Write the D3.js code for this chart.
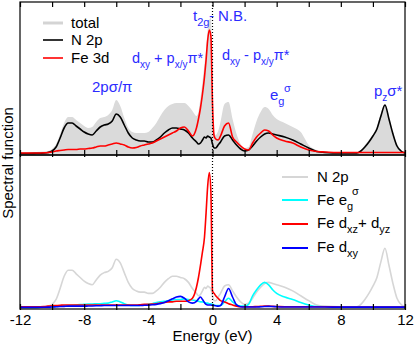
<!DOCTYPE html>
<html><head><meta charset="utf-8">
<script src="https://cdn.jsdelivr.net/npm/d3@7"></script>
<style>
body{margin:0;background:#fff;}
svg text{font-family:"Liberation Sans",Arial,Helvetica,sans-serif;}
</style></head>
<body><svg id="c" width="415" height="345"></svg>
<script>
// ---- data (energy grid in eV, arbitrary spectral units) ----
const energy = [-12,-11.5,-11,-10.5,-10.25, -10,-9.75,-9.5,-9.25,-9, -8.75,-8.5,-8.25,-8,-7.75,
  -7.5,-7.25,-7,-6.75,-6.5, -6.25,-6,-5.75,-5.5,-5.25, -5,-4.75,-4.5,-4.25,-4,
  -3.75,-3.5,-3.25,-3,-2.75, -2.5,-2.25,-2,-1.75,-1.5, -1.25,-1,-0.875,-0.75,-0.625,
  -0.5,-0.4,-0.3,-0.2,-0.1, 0,0.1,0.2,0.35,0.5, 0.75,1,1.25,1.5,1.75,
  2,2.25,2.5,2.75,3, 3.25,3.5,3.75,4,4.5, 5,5.5,6,6.5,7,
  8,9,9.25,9.5,9.75, 10,10.25,10.5,10.75,11, 11.25,11.5,11.75,12];
const total = [1.5,1.5,2,2.5,3, 5,10,20,31,37, 37,34,31,28,26,
  27,32,36,37,39, 44,54,48,36,26, 22,21,21,21,22,
  26,31,38,44,48, 50,51,51,51,48, 43,38,42,56,72,
  90,105,124,134,136, 70,22,19,23,32, 50,52,35,20,10,
  6,7,20,33,42, 47,45,39,35,31, 27,22,9,4,2.5,
  1.5,1.5,4,9,14, 19,27,41,50,37, 21,10,4,1.5];
const n2p = [0.5,0.5,0.7,1,1.5, 3,7,16,26,31, 31,28,25,22,20,
  19,23,27,29,30, 33,40,37,29,21, 16,14,13,13,12,
  12,14,17,21,24, 26,26,25,24,21, 16,12,10,11,14,
  17,16,18,17,16, 10,6,6,9,12, 18,19,14,9,5,
  3,4,8,13,17, 20,21,20,19,17, 14,10,6,2.5,1.5,
  1,1,3,7,12, 18,25,38,49,35, 20,8,3,1];
const fe3d = [1,1,1,1.2,1.5, 2,3,3.5,4,4.5, 4.5,4.5,5,5,5.5,
  6,7,8,8,9, 10,11,10,9,7, 6,6.5,8,9,10,
  11,13,15,17,19, 21,23,26,27,23, 18,26,35,46,60,
  77,94,114,124,118, 50,18,15,14,18, 28,31,17,12,8,
  5,4,11,17,21, 24,23,19,16,13, 11,7,4,2.5,2,
  1.5,1.5,1.5,1.5,1.5, 1.5,1.5,1.5,1.5,1.5, 1.5,1.5,1.5,1.5];
const feEg = [0.5,0.5,0.5,0.8,0.9, 1,1.2,1.5,1.8,2, 2.2,2.5,2.8,3,3.3,
  3.3,3.4,3.5,3.8,4, 5,6,5,3.5,2.5, 2,2,2.2,2.5,3,
  3.5,4.5,5,5.5,6, 6.5,7,7,7.5,7, 6.5,6,5.5,5,5,
  4.5,4,4,3.5,3.5, 3,2.5,2,2,2, 5,8,5,2.5,1.5,
  1.5,3,10,15,19, 21,19,15,12,9, 7,4.5,2.5,1.2,1,
  0.8,0.8,0.8,0.8,0.8, 0.8,0.8,0.8,0.8,0.8, 0.8,0.8,0.8,0.8];
const feDxzDyz = [1,1,1,1.2,1.5, 1.8,2,2.2,2.5,2.5, 2.5,2.5,2.5,2.5,2.5,
  2.5,2.5,2.5,2.5,2.5, 2.5,2.5,2.5,2.5,2.5, 2.5,2.5,2.7,3,3,
  3.2,3.5,4,4.5,5, 5,5.5,5.5,5.5,6, 8,17,25,35,46,
  58,78,100,111,95, 14,12,10,8,6, 5,3.5,2.5,1.5,1,
  1,1,1,1.2,1.3, 1.5,1.5,1.3,1.2,1, 1,1,1,1,1,
  0.8,0.8,0.8,0.8,0.8, 0.8,0.8,0.8,0.8,0.8, 0.8,0.8,0.8,0.8];
const feDxy = [0.5,0.5,0.5,0.6,0.7, 0.8,1,1.2,1.3,1.5, 1.5,1.5,1.5,1.5,1.6,
  1.7,1.8,1.9,2,2, 2,2,2,2,2, 2,2,2,2.2,2.3,
  2.6,3,3.6,4.5,6, 7.5,9,9.5,8,5, 4,5.5,7.5,9,7,
  4.5,3,2.5,2.5,2.5, 2.2,2,1.8,1.5,2, 9,16,9,2.5,1,
  0.8,0.8,0.8,0.8,1, 1.2,1.3,1.2,1,0.8, 0.8,0.8,0.8,0.8,0.8,
  0.7,0.7,0.7,0.7,0.7, 0.7,0.7,0.7,0.7,0.7, 0.7,0.7,0.7,0.7];
const xTickValues = [-12,-10,-8,-6,-4,-2,0,2,4,6,8,10,12];
const xTickLabels = [-12,-8,-4,0,4,8,12];

// ---- layout ----
const L = 20, R = 405, T = 2, M = 155, B = 309;
const svg = d3.select("#c");
const x = d3.scaleLinear().domain([-12, 12]).range([L, R]);
const yT = d3.scaleLinear().domain([0, 152]).range([154, 2]);
const yB = d3.scaleLinear().domain([0, 124]).range([308, 156.7]);

svg.append("clipPath").attr("id","ct").append("rect").attr("x",L).attr("y",T).attr("width",R-L).attr("height",M-T);
svg.append("clipPath").attr("id","cb").append("rect").attr("x",L).attr("y",M).attr("width",R-L).attr("height",B-M);

const pts = arr => energy.map((e,i) => [e, arr[i]]);
const lineT = d3.line().x(d=>x(d[0])).y(d=>yT(d[1])).curve(d3.curveMonotoneX);
const lineB = d3.line().x(d=>x(d[0])).y(d=>yB(d[1])).curve(d3.curveMonotoneX);
const areaT = d3.area().x(d=>x(d[0])).y0(M).y1(d=>yT(d[1])).curve(d3.curveMonotoneX);

const gT = svg.append("g").attr("clip-path","url(#ct)");
gT.append("path").attr("d", areaT(pts(total))).attr("fill","#dadada");
gT.append("path").attr("d", lineT(pts(n2p))).attr("fill","none").attr("stroke","#000").attr("stroke-width",1.6);
gT.append("path").attr("d", lineT(pts(fe3d))).attr("fill","none").attr("stroke","#ff0000").attr("stroke-width",1.6);

const gB = svg.append("g").attr("clip-path","url(#cb)");
gB.append("path").attr("d", lineB(pts(n2p))).attr("fill","none").attr("stroke","#d6d6d6").attr("stroke-width",1.6);
gB.append("path").attr("d", lineB(pts(feEg))).attr("fill","none").attr("stroke","#00ffff").attr("stroke-width",1.6);
gB.append("path").attr("d", lineB(pts(feDxzDyz))).attr("fill","none").attr("stroke","#ff0000").attr("stroke-width",1.6);
gB.append("path").attr("d", lineB(pts(feDxy))).attr("fill","none").attr("stroke","#0000ff").attr("stroke-width",1.6);

// Fermi level dotted line
svg.append("line").attr("x1",x(0)).attr("x2",x(0)).attr("y1",T).attr("y2",B)
  .attr("stroke","#000").attr("stroke-width",1.2).attr("stroke-dasharray","1,2");

// frames
svg.append("rect").attr("x",L).attr("y",T).attr("width",R-L).attr("height",M-T).attr("fill","none").attr("stroke","#000").attr("stroke-width",1.2);
svg.append("rect").attr("x",L).attr("y",M).attr("width",R-L).attr("height",B-M).attr("fill","none").attr("stroke","#000").attr("stroke-width",1.2);

// ticks
function ticks(axis, y){
  const g = svg.append("g").attr("transform",`translate(0,${y})`).call(axis);
  g.select(".domain").remove();
  g.selectAll("line").attr("stroke","#000").attr("stroke-width",1.2);
  return g;
}
ticks(d3.axisBottom(x).tickValues(xTickValues).tickSize(5).tickFormat(""), T);
ticks(d3.axisTop(x).tickValues(xTickValues).tickSize(7).tickFormat(""), M+2);
ticks(d3.axisTop(x).tickValues(xTickValues).tickSize(6).tickFormat(""), B+1);
const gl = ticks(d3.axisBottom(x).tickValues(xTickLabels).tickSize(0).tickPadding(5).tickFormat(d=>d), B);
gl.selectAll("text").attr("font-size",15).attr("fill","#000").attr("font-family","Liberation Sans, Arial, sans-serif");

svg.append("text").attr("x",(L+R)/2).attr("y",341).attr("text-anchor","middle").attr("font-size",15).text("Energy (eV)");
svg.append("text").attr("transform","translate(13,163) rotate(-90)").attr("text-anchor","middle").attr("font-size",15).text("Spectral function");

// top legend
const topLeg = [["total","#d4d4d4",3,23],["N 2p","#000",1.6,40],["Fe 3d","#ff0000",1.6,58]];
topLeg.forEach(([t,c,w,y])=>{
  svg.append("line").attr("x1",43).attr("x2",63).attr("y1",y).attr("y2",y).attr("stroke",c).attr("stroke-width",w);
  svg.append("text").attr("x",71).attr("y",y+5).attr("font-size",15).text(t);
});

// bottom legend
const botLeg = [["#d6d6d6",177],["#00ffff",200],["#ff0000",224],["#0000ff",248]];
botLeg.forEach(([c,y])=>{
  svg.append("line").attr("x1",282).attr("x2",308).attr("y1",y).attr("y2",y).attr("stroke",c).attr("stroke-width",2);
});
function rich(x0, y0, parts, color, size, subSize){
  const t = svg.append("text").attr("x",x0).attr("y",y0).attr("font-size",size||15).attr("fill",color||"#000");
  let cur = 0;
  parts.forEach(([s, kind])=>{
    const sp = t.append("tspan").text(s);
    let target = kind==="sub" ? 5 : kind==="sup" ? -8 : 0;
    sp.attr("dy", target-cur); cur = target;
    if(kind) sp.attr("font-size",subSize||11);
  });
  return t;
}
rich(317,182,[["N 2p"]]);
rich(317,205,[["Fe e"],["g","sub"]]);
svg.append("text").attr("x",352).attr("y",195).attr("font-size",11).text("σ");
rich(317,228,[["Fe d"],["xz","sub"],["+ d"],["yz","sub"]]);
rich(317,252,[["Fe d"],["xy","sub"]]);

// annotations (blue)
const blue = "#2b2bff";
rich(92,92,[["2pσ/π"]],blue);
rich(132,63,[["d"],["xy","sub"],[" + p"],["x/y","sub"],["π*"]],blue,14.5,10);
rich(222,60,[["d"],["xy","sub"],[" - p"],["x/y","sub"],["π*"]],blue,14.5,10);
rich(193,21,[["t"],["2g","sub"]],blue);
rich(209,21,[["-"]],blue);
rich(218,21,[["N.B."]],blue);
rich(270,100,[["e"],["g","sub"]],blue);
svg.append("text").attr("x",284).attr("y",92).attr("font-size",11).attr("fill",blue).text("σ");
rich(374,96,[["p"],["z","sub"],["σ*"]],blue,15,10);
</script></body></html>
